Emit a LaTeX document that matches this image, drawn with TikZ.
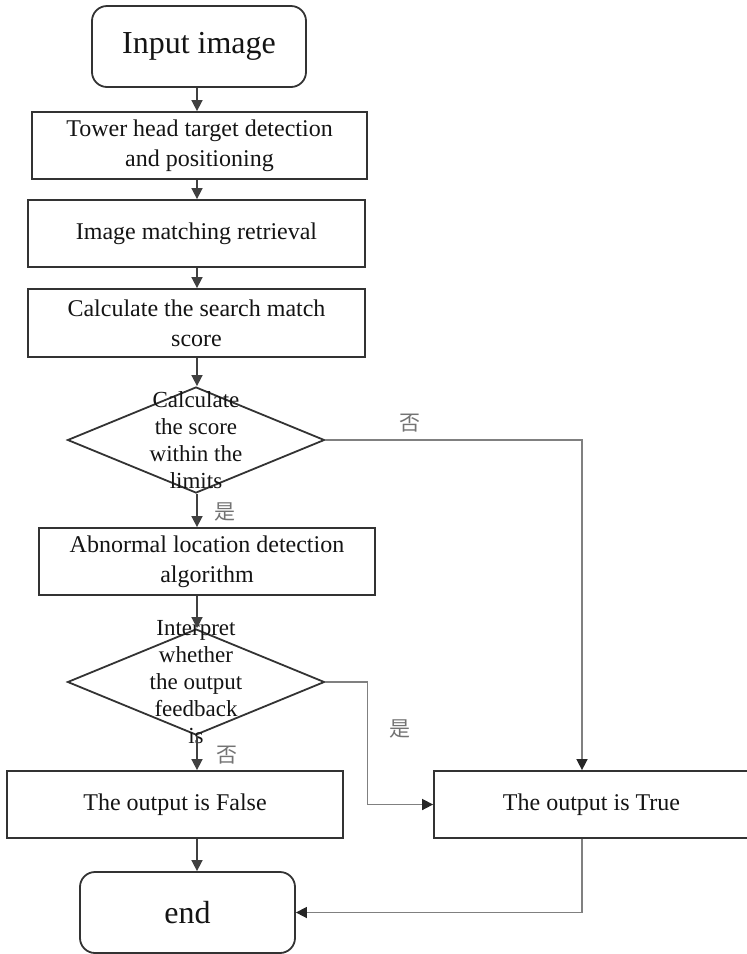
\documentclass[tikz,border=0pt]{standalone}
\usepackage{fontspec}
\setmainfont{Liberation Serif}
\newfontfamily\cjk{Noto Sans CJK SC}
\usetikzlibrary{shapes.geometric}
\usetikzlibrary{arrows.meta}

\begin{document}
\begin{tikzpicture}[x=1pt, y=-1pt,
  box/.style={draw=black!80, line width=1.8pt, minimum height=67pt, inner sep=0pt,
    align=center, text=black!92, font=\fontsize{24}{30}\selectfont},
  term/.style={box, rounded corners=15pt, minimum width=214pt, minimum height=81pt,
    font=\fontsize{32}{38}\selectfont},
  decision/.style={diamond, draw=black!80, line width=1.8pt, minimum width=257pt,
    minimum height=106pt, inner sep=0pt},
  dtext/.style={align=center, text=black!92, inner sep=0pt, font=\fontsize{23}{27}\selectfont},
  flow/.style={draw=black!75, line width=1.6pt, -{Triangle[width=11pt, length=11pt]}},
  side/.style={draw=black!50, line width=1.6pt, -{Triangle[width=11pt, length=11pt, color=black!85]}},
  yesno/.style={text=black!55, inner sep=0pt, font=\cjk\fontsize{21}{21}\selectfont}]

  \useasboundingbox (0,0) rectangle (747,954);

  % main column and right rail
  \coordinate (spine) at (197,0);
  \coordinate (rail) at (582,0);

  % steps
  \node[term] (start) at (199,46.5) {Input image};
  \node[box, minimum width=335pt] (locate) at (199.5,145.5) {Tower head target detection\\and positioning};
  \node[box, minimum width=337pt] (retrieve) at (196.5,233.5) {Image matching retrieval};
  \node[box, minimum width=337pt, minimum height=68pt] (score) at (196.5,323) {Calculate the search match\\score};

  % first check
  \node[decision] (inlimit) at (196,440) {};
  \node[dtext] (inlimit-t) at (inlimit) {Calculate\\the score\\within the\\limits};

  \node[box, minimum width=336pt] (abnormal) at (207,561.5) {Abnormal location detection\\algorithm};

  % second check
  \node[decision] (feedback) at (196,682) {};
  \node[dtext] (feedback-t) at (feedback) {Interpret\\whether\\the output\\feedback\\is};

  % results
  \node[box, minimum width=336pt] (false) at (175,804.5) {The output is False};
  \node[box, minimum width=315pt] (true) at (591.5,804.5) {The output is True};
  \node[term, minimum width=215pt] (stop) at (187.5,912.5) {end};

  % branch labels
  \node[yesno] (yes1) at (225,512) {是};
  \node[yesno] (no1) at (410,423) {否};
  \node[yesno] (yes2) at (400,729) {是};
  \node[yesno] (no2) at (227,755) {否};

  % arrows down the column
  \draw[flow] (start.south -| spine) -- (locate.north -| spine);
  \draw[flow] (locate.south -| spine) -- (retrieve.north -| spine);
  \draw[flow] (retrieve.south -| spine) -- (score.north -| spine);
  \draw[flow] (score.south -| spine) -- (inlimit.north -| spine);
  \draw[flow] (inlimit.south -| spine) -- (abnormal.north -| spine);
  \draw[flow] (abnormal.south -| spine) -- (feedback.north -| spine);
  \draw[flow] (feedback.south -| spine) -- (false.north -| spine);
  \draw[flow] (false.south -| spine) -- (stop.north -| spine);

  % side branches
  \draw[side] (inlimit.east) -| (rail |- true.north);
  \draw[side] (feedback.east) -- ++(42,0) |- (true.west);
  \draw[side] (rail |- true.south) |- (stop.east);
\end{tikzpicture}
\end{document}
